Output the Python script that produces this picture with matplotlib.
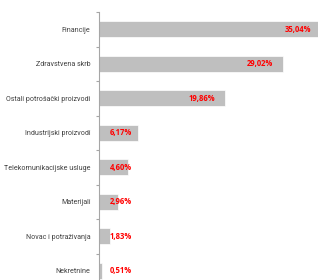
import numpy as np
import matplotlib.pyplot as plt

categories = ['Financije', 'Zdravstvena skrb', 'Ostali potrošački proizvodi',
              'Industrijski proizvodi', 'Telekomunikacijske usluge',
              'Materijali', 'Novac i potraživanja', 'Nekretnine']
values = [35.04, 29.02, 19.86, 6.17, 4.60, 2.96, 1.83, 0.51]
labels = ['35,04%', '29,02%', '19,86%', '6,17%', '4,60%', '2,96%', '1,83%', '0,51%']

plt.rcParams['font.family'] = ['Open Sans', 'DejaVu Sans']

fig = plt.figure(figsize=(3.18, 2.80), dpi=100)
ax = fig.add_axes([0.311, -0.029, 0.797, 0.986])

y = np.arange(len(categories))
ax.barh(y, values, height=0.47, color='#BFBFBF', edgecolor='white', linewidth=0.5)
ax.set_ylim(len(categories) - 0.5, -0.5)
ax.set_xlim(0, 40)

for yi, v, lab in zip(y, values, labels):
    if v >= 10:
        ax.annotate(lab, (v, yi), xytext=(-7, 0), textcoords='offset points',
                    ha='right', va='center', color='#FF0000', fontsize=5.5,
                    fontweight='bold')
    else:
        ax.annotate(lab, (0, yi), xytext=(8, 0), textcoords='offset points',
                    ha='left', va='center', color='#FF0000', fontsize=5.5,
                    fontweight='bold')

ax.set_yticks(y)
ax.set_yticklabels(categories, fontsize=5.1, color='#404040',
                   family=['Roboto', 'DejaVu Sans'])
ax.set_yticks(np.arange(-0.5, len(categories) + 0.5), minor=True)
ax.tick_params(axis='y', which='major', length=0, pad=6)
ax.tick_params(axis='y', which='minor', length=2.5, color='#A6A6A6', width=0.8)
ax.set_xticks([])

for s in ['top', 'right', 'bottom']:
    ax.spines[s].set_visible(False)
ax.spines['left'].set_color('#A6A6A6')
ax.spines['left'].set_linewidth(0.8)

fig.savefig('out.png', dpi=100)
